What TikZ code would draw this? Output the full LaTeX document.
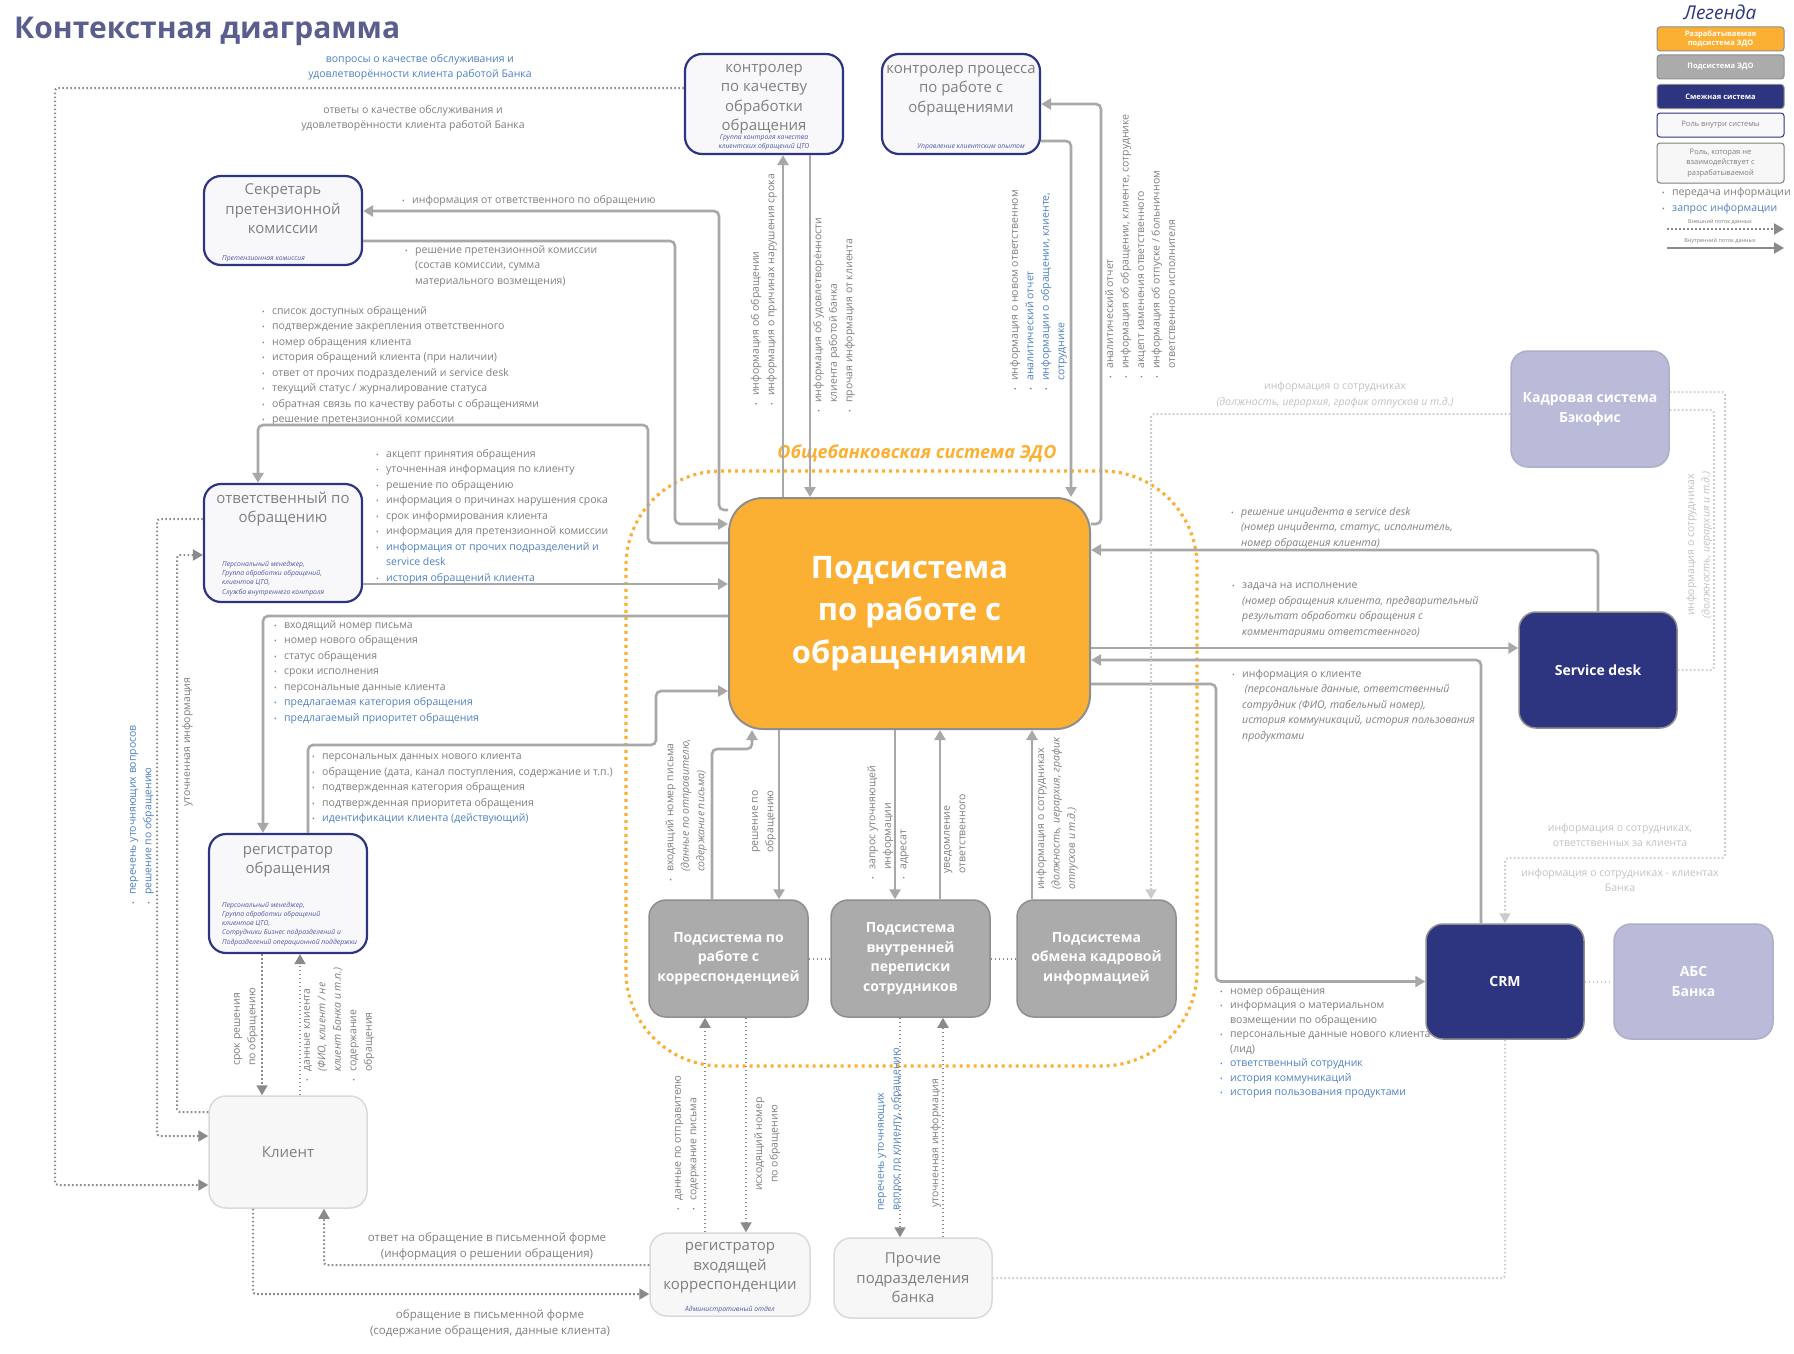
\documentclass[tikz,border=0pt]{standalone}
\usepackage{fontspec}
\setmainfont{Open Sans}
\usetikzlibrary{arrows.meta,positioning}

\definecolor{edoorange}{HTML}{FBB034}
\definecolor{navy}{HTML}{2E3580}
\definecolor{lavender}{HTML}{B9BBD8}
\definecolor{subgray}{HTML}{ABABAB}
\definecolor{edgegray}{HTML}{8E8E8E}
\definecolor{linegray}{HTML}{A8A8A8}
\definecolor{dotgray}{HTML}{8A8A8A}
\definecolor{lightdot}{HTML}{CCCCCC}
\definecolor{txtgray}{HTML}{7F7F7F}
\definecolor{lighttxt}{HTML}{C2C2C2}
\definecolor{infoblue}{HTML}{4F81BD}
\definecolor{titleblue}{HTML}{5A5E8E}
\definecolor{subblue}{HTML}{5055A0}
\definecolor{rolefill}{HTML}{F8F8FA}
\definecolor{extfill}{HTML}{F7F7F7}
\definecolor{extedge}{HTML}{DADADA}

\newcommand{\bul}{\makebox[10pt][l]{\fontsize{7}{7}\selectfont\textbullet}}
\newcommand{\hind}{\hspace*{10pt}}
\newcommand{\ib}[1]{{\color{infoblue}#1}}

\tikzset{
  rolebox/.style={draw=navy, line width=2.2pt, fill=rolefill, rounded corners=17pt,
    minimum width=158pt, inner sep=0pt},
  extbox/.style={draw=extedge, line width=1.5pt, fill=extfill, rounded corners=17pt,
    minimum width=158pt, inner sep=0pt},
  roletitle/.style={text=txtgray, align=center, inner sep=0pt,
    font=\fontsize{15}{19.5}\selectfont},
  rolesub/.style={text=subblue, align=left, inner sep=0pt,
    font=\itshape\fontsize{6.8}{9.2}\selectfont},
  subsys/.style={draw=edgegray, line width=1.5pt, fill=subgray, rounded corners=17pt,
    minimum width=159pt, minimum height=117pt, inner sep=0pt, align=center,
    text=white, font=\bfseries\fontsize{14}{19.5}\selectfont},
  adjsys/.style={draw=edgegray, line width=1.5pt, fill=navy, rounded corners=17pt,
    minimum width=158pt, minimum height=116pt, inner sep=0pt, align=center,
    text=white, font=\bfseries\fontsize{14}{19.5}\selectfont},
  adjlight/.style={adjsys, fill=lavender, draw=lavender!80!gray},
  flow/.style={draw=linegray, line width=2.6pt, rounded corners=5pt,
    -{Triangle[length=10pt,width=11pt]}},
  extflow/.style={draw=dotgray, line width=2pt, dash pattern=on 1.6pt off 2.4pt,
    rounded corners=3pt, -{Triangle[length=10pt,width=11pt]}},
  lightflow/.style={extflow, draw=lightdot},
  linkdot/.style={draw=dotgray, line width=2pt, dash pattern=on 1.6pt off 2.4pt},
  lbl/.style={text=txtgray, align=left, inner sep=0pt,
    font=\fontsize{10.5}{15.5}\selectfont},
  vlbl/.style={lbl, rotate=90},
  lightlbl/.style={lbl, text=lighttxt, align=center},
  legbox/.style={rounded corners=3pt, minimum width=127pt, minimum height=24pt,
    inner sep=0pt, align=center, text=white, draw=edgegray, line width=1pt,
    font=\bfseries\fontsize{7.5}{9}\selectfont}
}

\begin{document}
\begin{tikzpicture}[x=1pt,y=-1pt]
\useasboundingbox (0,0) rectangle (1794,1354);
\fill[white] (0,0) rectangle (1794,1354);

\node[anchor=base west, inner sep=0pt, text=titleblue,
  font=\bfseries\fontsize{30}{36}\selectfont] (title) at (14,39) {Контекстная диаграмма};

% общебанковская система
\node[draw=edoorange, line width=3.2pt, dash pattern=on 3pt off 4pt, rounded corners=95pt,
  minimum width=571pt, minimum height=595pt, inner sep=0pt] (edo) at (911.5,768.5) {};
\node[text=edoorange, inner sep=0pt, font=\bfseries\itshape\fontsize{18}{22}\selectfont]
  (edolabel) at (917,453) {Общебанковская система ЭДО};

% главная подсистема
\node[draw=edgegray, line width=2pt, fill=edoorange, rounded corners=34pt,
  minimum width=361pt, minimum height=231pt, inner sep=0pt, align=center, text=white,
  font=\bfseries\fontsize{31}{42.5}\selectfont] (main) at (909.5,613.5)
  {Подсистема\\по работе с\\обращениями};

\node[subsys] (corr) at (728.5,958.5) {Подсистема по\\работе с\\корреспонденцией};
\node[subsys] (vnut) at (910.5,958.5) {Подсистема\\внутренней\\переписки\\сотрудников};
\node[subsys] (kadr) at (1096.5,958.5) {Подсистема\\обмена кадровой\\информацией};

% роли
\node[rolebox, minimum height=100pt] (kq) at (764,104) {};
\node[roletitle, below=11pt of kq.north] (kqt) {контролер\\по качеству\\обработки\\обращения};
\node[rolesub, align=center, above=5pt of kq.south] (kqs) {Группа контроля качества\\клиентских обращений ЦТО};

\node[rolebox, minimum height=100pt] (kp) at (961,104) {};
\node[roletitle, below=12pt of kp.north] (kpt) {контролер процесса\\по работе с\\обращениями};
\node[rolesub, above=5pt of kp.south, xshift=10pt] (kps) {Управление клиентским опытом};

\node[rolebox, minimum height=89pt] (sec) at (283,220.5) {};
\node[roletitle, below=9pt of sec.north] (sect) {Секретарь\\претензионной\\комиссии};
\node[rolesub, anchor=south west] (secs) at (222,262) {Претензионная комиссия};

\node[rolebox, minimum height=118pt] (otv) at (283,543) {};
\node[roletitle, below=9pt of otv.north] (otvt) {ответственный по\\обращению};
\node[rolesub, anchor=south west] (otvs) at (222,596)
  {Персональный менеджер,\\Группа обработки обращений,\\клиентов ЦТО,\\Служба внутреннего контроля};

\node[rolebox, minimum height=119pt] (reg) at (288,893.5) {};
\node[roletitle, below=13pt of reg.north] (regt) {регистратор\\обращения};
\node[rolesub, anchor=south west] (regs) at (222,946)
  {Персональный менеджер,\\Группа обработки обращений\\клиентов ЦТО,\\Сотрудники Бизнес подразделений и\\Подразделений операционной поддержки};

\node[extbox, minimum height=112pt] (cl) at (288,1152) {};
\node[roletitle] (clt) at (cl.center) {Клиент};

\node[extbox, minimum height=83pt, minimum width=160pt] (regin) at (730,1274.5) {};
\node[roletitle, below=10pt of regin.north] (regint) {регистратор\\входящей\\корреспонденции};
\node[rolesub, above=3pt of regin.south] (regins) {Административный отдел};

\node[extbox, minimum height=80pt] (proch) at (913,1278) {};
\node[roletitle] (procht) at (proch.center) {Прочие\\подразделения\\банка};

% смежные системы
\node[adjlight] (hr) at (1590,409) {Кадровая система\\Бэкофис};
\node[adjsys] (sd) at (1598,670) {Service desk};
\node[adjsys, minimum height=115pt] (crm) at (1505,981.5) {CRM};
\node[adjlight, minimum height=115pt, minimum width=159pt] (abs) at (1693.5,981.5) {АБС\\Банка};

% легенда
\node[text=navy, inner sep=0pt, font=\itshape\fontsize{19}{22}\selectfont] (legt) at (1720,12) {Легенда};
\node[legbox, fill=edoorange] (lg1) at (1720.5,39) {Разрабатываемая\\подсистема ЭДО};
\node[legbox, fill=subgray] (lg2) at (1720.5,67) {Подсистема ЭДО};
\node[legbox, fill=navy] (lg3) at (1720.5,96.5) {Смежная система};
\node[legbox, fill=rolefill, draw=navy, text=txtgray, font=\fontsize{7.5}{9}\selectfont] (lg4) at (1720.5,125) {Роль внутри системы};
\node[legbox, fill=extfill, draw=txtgray, text=txtgray, minimum height=40pt,
  font=\fontsize{7.5}{10.5}\selectfont] (lg5) at (1720.5,163) {Роль, которая не\\взаимодействует с\\разрабатываемой};
\node[lbl, anchor=west] (lg6) at (1662,193) {\bul передача информации};
\node[lbl, anchor=west] (lg7) at (1662,209) {\ib{\bul запрос информации}};
\node[lbl, font=\fontsize{5.5}{6}\selectfont] (lg8) at (1720,222) {Внешний поток данных};
\node[lbl, font=\fontsize{5.5}{6}\selectfont] (lg9) at (1720,241) {Внутренний поток данных};
\coordinate (lgA) at (1667,229);
\coordinate (lgB) at (1784,229);
\coordinate (lgC) at (1667,248);
\coordinate (lgD) at (1784,248);
\draw[extflow, draw=dotgray] (lgA) -- (lgB);
\draw[flow, draw=dotgray, line width=1.8pt] (lgC) -- (lgD);

% потоки контролеров
\draw[flow] ([xshift=19pt]kq.south |- main.north) -- ([xshift=19pt]kq.south);
\draw[flow] ([xshift=46pt]kq.south) -- ([xshift=46pt]kq.south |- main.north);
\draw[flow] (kp.east |- 0,141) -| (main.north -| 1071,0);
\draw[flow] (main.east |- 0,524) -| (1101,104) -- (kp.east |- 0,104);

% секретарь и ответственный
\draw[flow] (main.west |- 0,510) -| (719,211) -- (sec.east |- 0,211);
\draw[flow] (sec.east |- 0,241) -| (675,524) -- (main.west |- 0,524);
\draw[flow] (main.west |- 0,543) -| (648,425) -| (otv.north -| 258,0);
\draw[flow] (otv.east |- 0,584) -- (main.west |- 0,584);

% регистратор
\draw[flow] (main.west |- 0,616) -| (reg.north -| 263,0);
\draw[flow] (reg.north -| 308,0) |- (656,745) |- (main.west |- 0,691);

% подсистемы ЭДО
\draw[flow] (corr.north -| 712,0) |- (752,749) -- (main.south -| 752,0);
\draw[flow] (main.south -| 779,0) -- (corr.north -| 779,0);
\draw[flow] (main.south -| 895,0) -- (vnut.north -| 895,0);
\draw[flow] (vnut.north -| 940,0) -- (main.south -| 940,0);
\draw[flow] (kadr.north -| 1032,0) -- (main.south -| 1032,0);
\draw[linkdot] (corr.east) -- (vnut.west);
\draw[linkdot] (vnut.east) -- (kadr.west);

% смежные системы
\draw[flow] (sd.north) |- (main.east |- 0,550);
\draw[flow] (main.east |- 0,648) -- (sd.west |- 0,648);
\draw[flow] (crm.north -| 1481,0) |- (main.east |- 0,660);
\draw[flow] (main.east |- 0,684) -| (1216,0 |- crm.west) -- (crm.west);
\draw[lightflow] (hr.west |- 0,414) -| (kadr.north -| 1151,0);
\draw[lightflow, -] (hr.east |- 0,410) -| (1714,0 |- sd.east) -- (sd.east);
\draw[lightflow] (hr.east |- 0,392) -| (1725,858) -| (crm.north);
\draw[lightflow, -] (crm.east) -- (abs.west);
\draw[lightflow, -] (crm.south) |- (proch.east);

% внешние потоки
\draw[extflow] (regin.north -| 705,0) -- (corr.south -| 705,0);
\draw[extflow] (corr.south -| 746,0) -- (regin.north -| 746,0);
\draw[extflow] (vnut.south -| 900,0) -- (proch.north -| 900,0);
\draw[extflow] (proch.north -| 943,0) -- (vnut.south -| 943,0);
\draw[extflow] (regin.west |- 0,1265) -| (cl.south -| 324,0);
\draw[extflow] (cl.south -| 253,0) |- (regin.west |- 0,1294);
\draw[extflow] (reg.south -| 262,0) -- (cl.north -| 262,0);
\draw[extflow] (cl.north -| 300,0) -- (reg.south -| 300,0);
\draw[extflow] (otv.west |- 0,519) -| (157,1136) -- (cl.west |- 0,1136);
\draw[extflow] (cl.west |- 0,1112) -| (177,555) -- (otv.west |- 0,555);
\draw[extflow] (kq.west |- 0,88) -| (55,1185) -- (cl.west |- 0,1185);

% подписи
\node[lbl, align=center, text=infoblue] (tq1) at (420,67)
  {вопросы о качестве обслуживания и\\удовлетворённости клиента работой Банка};
\node[lbl, align=center] (tq2) at (413,118)
  {ответы о качестве обслуживания и\\удовлетворённости клиента работой Банка};
\node[lbl, anchor=west] (tsec1) at (402,201) {\bul информация от ответственного по обращению};
\node[lbl, anchor=north west] (tsec2) at (405,245)
  {\bul решение претензионной комиссии\\\hind(состав комиссии, сумма\\\hind материального возмещения)};
\node[lbl, anchor=north west] (tl1) at (262,306)
  {\bul список доступных обращений\\
   \bul подтверждение закрепления ответственного\\
   \bul номер обращения клиента\\
   \bul история обращений клиента (при наличии)\\
   \bul ответ от прочих подразделений и service desk\\
   \bul текущий статус / журналирование статуса\\
   \bul обратная связь по качеству работы с обращениями\\
   \bul решение претензионной комиссии};
\node[lbl, anchor=north west] (tl2) at (376,449)
  {\bul акцепт принятия обращения\\
   \bul уточненная информация по клиенту\\
   \bul решение по обращению\\
   \bul информация о причинах нарушения срока\\
   \bul срок информирования клиента\\
   \bul информация для претензионной комиссии\\
   \ib{\bul информация от прочих подразделений и}\\
   \ib{\hind service desk}\\
   \ib{\bul история обращений клиента}};
\node[lbl, anchor=north west] (tl3) at (274,620)
  {\bul входящий номер письма\\
   \bul номер нового обращения\\
   \bul статус обращения\\
   \bul сроки исполнения\\
   \bul персональные данные клиента\\
   \ib{\bul предлагаемая категория обращения}\\
   \ib{\bul предлагаемый приоритет обращения}};
\node[lbl, anchor=north west] (tl4) at (312,754)
  {\bul персональных данных нового клиента\\
   \bul обращение (дата, канал поступления, содержание и т.п.)\\
   \bul подтвержденная категория обращения\\
   \bul подтвержденная приоритета обращения\\
   \ib{\bul идентификации клиента (действующий)}};

\node[vlbl, anchor=south west] (tkq1) at (777,406)
  {\bul информация об обращении\\\bul информация о причинах нарушения срока};
\node[vlbl, anchor=north west] (tkq2) at (813,413)
  {\bul информация об удовлетворённости\\\hind клиента работой банка\\\bul прочая информация от клиента};
\node[vlbl, anchor=south west] (tkp1) at (1067,391)
  {\bul информация о новом ответственном\\\ib{\bul аналитический отчет}\\
   \ib{\bul информации о обращении, клиенте,}\\\ib{\hind сотруднике}};
\node[vlbl, anchor=north west] (tkp2) at (1105,379)
  {\bul аналитический отчет\\\bul информация об обращении, клиенте, сотруднике\\
   \bul акцепт изменения ответственного\\\bul информация об отпуске / больничном\\
   \hind ответственного исполнителя};

\node[vlbl, anchor=south west] (tc1) at (707,882)
  {\bul входящий номер письма\\\hind\textit{(данные по отправителю,}\\\hind\textit{содержание письма)}};
\node[vlbl, anchor=south west] (tc2) at (776,853) {решение по\\обращению};
\node[vlbl, anchor=south west] (tv1) at (909,880)
  {\bul запрос уточняющей\\\hind информации\\\bul адресат};
\node[vlbl, anchor=north west] (tv2) at (944,874) {уведомление\\ответственного};
\node[vlbl, anchor=north west] (tk1) at (1036,890)
  {информация о сотрудниках\\\textit{(должность, иерархия, график}\\\textit{отпусков и т.д.)}};

\node[lbl, anchor=north west] (tsd1) at (1231,507)
  {\bul\textit{решение инцидента в service desk}\\\hind\textit{(номер инцидента, статус, исполнитель,}\\\hind\textit{номер обращения клиента)}};
\node[lbl, anchor=north west] (tsd2) at (1232,583)
  {\bul задача на исполнение\\\hind\textit{(номер обращения клиента, предварительный}\\
   \hind\textit{результат обработки обращения с}\\\hind\textit{комментариями ответственного)}};
\node[lbl, anchor=north west] (tcrm1) at (1232,669)
  {\bul информация о клиенте\\\hind\textit{ (персональные данные, ответственный}\\
   \hind\textit{сотрудник (ФИО, табельный номер),}\\
   \hind\textit{история коммуникаций, история пользования}\\\hind\textit{продуктами}};
\node[lbl, anchor=north west, font=\fontsize{10.5}{14.5}\selectfont] (tcrm2) at (1220,986)
  {\bul номер обращения\\\bul информация о материальном\\\hind возмещении по обращению\\
   \bul персональные данные нового клиента\\\hind (лид)\\
   \ib{\bul ответственный сотрудник}\\\ib{\bul история коммуникаций}\\
   \ib{\bul история пользования продуктами}};

\node[lightlbl] (thr1) at (1335,395) {информация о сотрудниках\\\textit{(должность, иерархия, график отпусков и т.д.)}};
\node[lightlbl, rotate=90] (thr2) at (1699,545) {информация о сотрудниках\\\textit{(должность, иерархия и т.д.)}};
\node[lightlbl] (thr3) at (1620,835) {информация о сотрудниках,\\ответственных за клиента};
\node[lightlbl] (thr4) at (1620,880) {информация о сотрудниках - клиентах\\Банка};

\node[vlbl, anchor=south west] (tr1) at (699,1211) {\bul данные по отправителю\\\bul содержание письма};
\node[vlbl, anchor=north, align=center] (tr2) at (754,1144) {исходящий номер\\по обращению};
\node[vlbl, anchor=south west, text=infoblue] (tp1) at (902,1211) {перечень уточняющих\\вопрос по клиенту, обращению};
\node[vlbl, anchor=south west] (tp2) at (941,1208) {уточненная информация};

\node[lbl, align=center, font=\fontsize{11.5}{16}\selectfont] (tb1) at (487,1246) {ответ на обращение в письменной форме\\(информация о решении обращения)};
\node[lbl, align=center, font=\fontsize{11.5}{16}\selectfont] (tb2) at (490,1323) {обращение в письменной форме\\(содержание обращения, данные клиента)};

\node[vlbl, anchor=south west] (tcl1) at (258,1066) {срок решения\\по обращению};
\node[vlbl, anchor=north west] (tcl2) at (304,1082)
  {\bul данные клиента\\\hind\textit{(ФИО, клиент / не}\\\hind\textit{клиент Банка и т.п.)}\\\bul содержание\\\hind обращения};
\node[vlbl, anchor=south west, text=infoblue] (tot1) at (154,905)
  {\bul перечень уточняющих вопросов\\\bul решение по обращению};
\node[vlbl, anchor=north west] (tot2) at (182,807) {уточненная информация};

\end{tikzpicture}
\end{document}
